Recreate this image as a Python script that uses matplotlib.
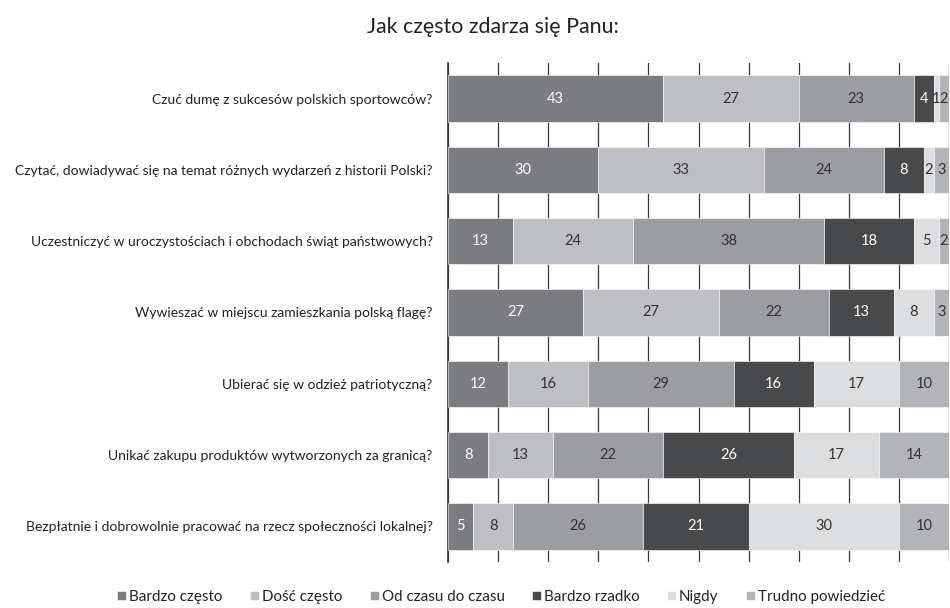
import matplotlib.pyplot as plt
import numpy as np

plt.rcParams['font.family'] = ['Lato', 'DejaVu Sans']

questions = [
    'Czuć dumę z sukcesów polskich sportowców?',
    'Czytać, dowiadywać się na temat różnych wydarzeń z historii Polski?',
    'Uczestniczyć w uroczystościach i obchodach świąt państwowych?',
    'Wywieszać w miejscu zamieszkania polską flagę?',
    'Ubierać się w odzież patriotyczną?',
    'Unikać zakupu produktów wytworzonych za granicą?',
    'Bezpłatnie i dobrowolnie pracować na rzecz społeczności lokalnej?',
]
answers = ['Bardzo często', 'Dość często', 'Od czasu do czasu',
           'Bardzo rzadko', 'Nigdy', 'Trudno powiedzieć']

bardzo_czesto = [43, 30, 13, 27, 12, 8, 5]
dosc_czesto = [27, 33, 24, 27, 16, 13, 8]
od_czasu = [23, 24, 38, 22, 29, 22, 26]
bardzo_rzadko = [4, 8, 18, 13, 16, 26, 21]
nigdy = [1, 2, 5, 8, 17, 17, 30]
trudno = [2, 3, 2, 3, 10, 14, 10]

series = [bardzo_czesto, dosc_czesto, od_czasu, bardzo_rzadko, nigdy, trudno]
colors = ['#7b7c80', '#bebfc2', '#9c9da0', '#48494b', '#dcdddf', '#b3b4b7']
text_colors = ['white', '#333333', '#333333', 'white', '#333333', '#333333']

fig = plt.figure(figsize=(9.5, 6.08), dpi=100)
ax = fig.add_axes([448 / 950, 1 - 562 / 608, 501 / 950, 499 / 608])

y = np.arange(len(questions))
left = np.zeros(len(questions))
for vals, col, tcol, name in zip(series, colors, text_colors, answers):
    vals = np.array(vals, dtype=float)
    ax.barh(y, vals, left=left, height=0.65, color=col, label=name,
            edgecolor='white', linewidth=0.4, zorder=3)
    for yi, (l, v) in enumerate(zip(left, vals)):
        ax.text(l + v / 2, yi, '%d' % v, ha='center', va='center',
                fontsize=10.5, color=tcol, zorder=4)
    left += vals

ax.set_xlim(0, 100)
ax.set_ylim(len(questions) - 0.5, -0.5)
ax.set_xticks(np.arange(0, 101, 10))
ax.tick_params(axis='x', length=0, labelbottom=False)
ax.xaxis.grid(True, color='#3a3a3a', linewidth=0.9, zorder=0)
ax.set_axisbelow(True)
ax.set_yticks(y)
ax.set_yticklabels(questions, fontsize=10, color='#222222')
ax.tick_params(axis='y', length=0, pad=11)
for s in ['top', 'right', 'bottom']:
    ax.spines[s].set_visible(False)
ax.spines['left'].set_color('#3a3a3a')
ax.spines['left'].set_linewidth(1.2)

fig.text(493 / 950, 1 - 27 / 608, 'Jak często zdarza się Panu:', ha='center',
         va='center', fontsize=15.4, color='#222222')

fig.legend(loc='center', bbox_to_anchor=(501 / 950, 1 - 597 / 608), ncol=6,
           frameon=False, fontsize=10.9, handlelength=0.6, handleheight=0.6,
           handletextpad=0.2, columnspacing=1.8, labelcolor='#222222')

fig.savefig('out.png', dpi=100)
